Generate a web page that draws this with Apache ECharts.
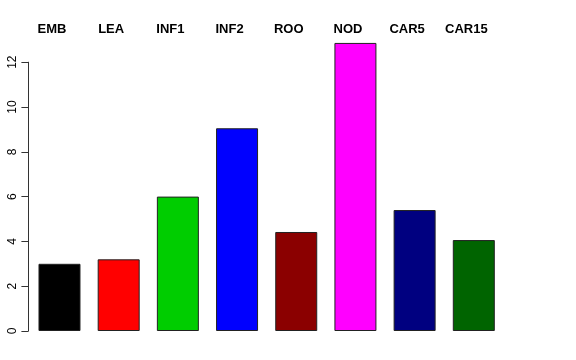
<!DOCTYPE html>
<html>
<head>
<meta charset="utf-8">
<script src="https://cdn.jsdelivr.net/npm/echarts@6/dist/echarts.min.js"></script>
<style>html,body{margin:0;padding:0;background:#fff}#c{width:576px;height:360px}</style>
</head>
<body>
<div id="c"></div>
<script>
const categories = ['EMB','LEA','INF1','INF2','ROO','NOD','CAR5','CAR15'];
const values = [3.0, 3.2, 6.0, 9.05, 4.42, 12.86, 5.4, 4.06];
const barColors = ['#000000','#FF0000','#00CD00','#0000FF','#8B0000','#FF00FF','#000080','#006400'];
const yTicks = [0, 2, 4, 6, 8, 10, 12];

const font = 'Liberation Sans, Arial, Helvetica, sans-serif';
const chart = echarts.init(document.getElementById('c'), null, {renderer:'canvas'});
chart.setOption({
  animation: false,
  backgroundColor: '#ffffff',
  grid: [
    {left: 29.9, width: 473.5, top: 62.2, bottom: 29},
    {left: 29.9, width: 473.5, top: 39.8, bottom: 29}
  ],
  xAxis: [
    {gridIndex: 0, type: 'category', data: categories, show: false},
    {gridIndex: 1, type: 'category', data: categories, position: 'top',
     axisLine: {show: false}, axisTick: {show: false},
     axisLabel: {show: true, margin: 4, fontFamily: font, fontWeight: 'bold', fontSize: 13, color: '#000', padding: [0, 15, 0, 0]}}
  ],
  yAxis: [
    {gridIndex: 0, type: 'value', min: yTicks[0], max: yTicks[yTicks.length-1], interval: 2, offset: 1.5,
     axisLine: {show: true, lineStyle: {color: '#333', width: 1}},
     axisTick: {show: true, length: 7, lineStyle: {color: '#333'}},
     splitLine: {show: false},
     axisLabel: {rotate: 90, margin: 10, fontFamily: font, fontSize: 12, color: '#000'}},
    {gridIndex: 1, type: 'value', min: 0, max: 13, show: false, splitLine: {show: false}}
  ],
  series: [{
    type: 'bar', xAxisIndex: 1, yAxisIndex: 1, barWidth: 42,
    data: values.map((v, i) => ({value: v, itemStyle: {color: barColors[i]}})),
    itemStyle: {borderColor: '#222', borderWidth: 1}
  }]
});
</script>
</body>
</html>
